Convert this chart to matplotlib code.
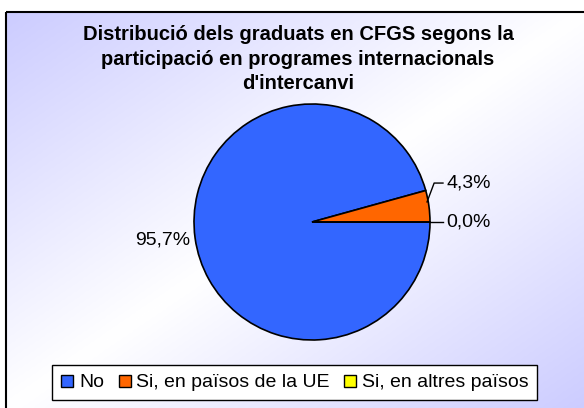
import numpy as np
import matplotlib
matplotlib.use('Agg')
from matplotlib import pyplot as plt
from matplotlib.patches import Rectangle
from matplotlib.colors import LinearSegmentedColormap
from matplotlib.lines import Line2D

plt.rcParams['font.family'] = ['Liberation Sans', 'DejaVu Sans']

categories = ['No', 'Si, en països de la UE', 'Si, en altres països']
values = [95.7, 4.3, 0.0]
labels = ['95,7%', '4,3%', '0,0%']
colors = ['#3366FF', '#FF6600', '#FFFF00']

title = "Distribució dels graduats en CFGS segons la\nparticipació en programes internacionals\nd'intercanvi"

W, H = 584, 408
fig = plt.figure(figsize=(W / 100, H / 100), dpi=100)

# background frame with diagonal gradient
bg = fig.add_axes([0, 0, 1, 1])
bg.set_xlim(0, W)
bg.set_ylim(H, 0)
bg.axis('off')
xx, yy = np.meshgrid(np.linspace(0, 1, 300), np.linspace(0, 1, 200))
t = np.abs((xx + yy) / 2 - 0.5) * 2
cmap = LinearSegmentedColormap.from_list('grad', ['#FFFFFF', '#CCCCFF'])
bg.imshow(t, cmap=cmap, extent=[6, W + 2, H + 2, 12], aspect='auto', zorder=0)
bg.add_patch(Rectangle((6, 12), W, H, fill=False, edgecolor='black', lw=1.5, zorder=1))

fig.text(298 / W, 1 - 25 / H, title, ha='center', va='top', fontsize=14.5,
         fontweight='bold', linespacing=1.38)

# pie, radius 118 px, centre (312, 222)
r, cx, cy = 118, 312, 222
ax = fig.add_axes([(cx - r) / W, (H - cy - r) / H, 2 * r / W, 2 * r / H])
wedges, _ = ax.pie(values, colors=colors, startangle=0, counterclock=False,
                   wedgeprops=dict(edgecolor='black', linewidth=1.2))
ax.set_xlim(-1, 1)
ax.set_ylim(-1, 1)
ax.set_aspect('equal')

# labels
ax.text(-1.035, -0.15, labels[0], ha='right', va='center', fontsize=14)
ax.text(1.14, 0.33, labels[1], ha='left', va='center', fontsize=14)
ax.text(1.14, 0.0, labels[2], ha='left', va='center', fontsize=14)
ax.plot([0.975, 1.035, 1.11], [0.17, 0.33, 0.33], color='black', lw=1, clip_on=False)
ax.plot([1.0, 1.11], [0.0, 0.0], color='black', lw=1, clip_on=False)

handles = [Line2D([], [], marker='s', linestyle='none', markersize=9,
                  markerfacecolor=c, markeredgecolor='black', markeredgewidth=1)
           for c in colors]
leg = fig.legend(handles, categories, loc='center', ncol=3,
                 bbox_to_anchor=(294.5 / W, 1 - 382.5 / H), fontsize=14,
                 frameon=True, fancybox=False, handlelength=0.7,
                 handletextpad=0.25, columnspacing=0.7, borderpad=0.45,
                 borderaxespad=0)
leg.get_frame().set_edgecolor('black')
leg.get_frame().set_linewidth(1)
leg.get_frame().set_facecolor('white')
leg.get_frame().set_alpha(1)

fig.savefig('out.png', dpi=100)
